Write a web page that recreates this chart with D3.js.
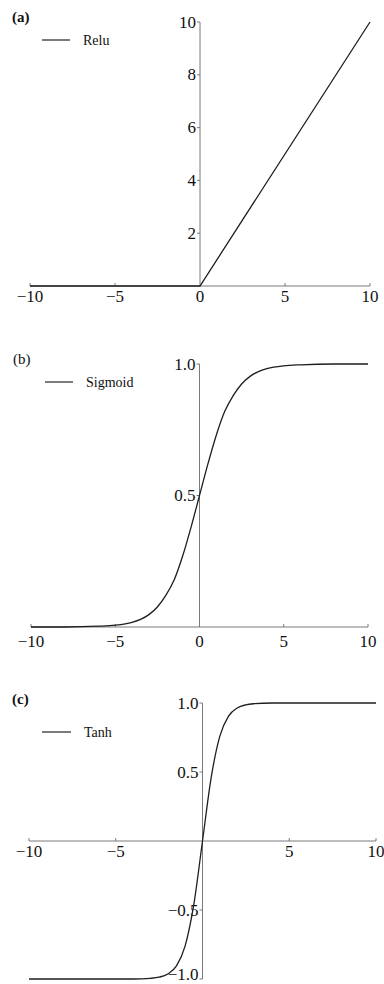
<!DOCTYPE html>
<html>
<head>
<meta charset="utf-8">
<script src="https://cdn.jsdelivr.net/npm/d3@7"></script>
<style>
  html, body { margin: 0; padding: 0; background: #fff; }
  svg { display: block; font-family: "Liberation Serif", "DejaVu Serif", serif; }
</style>
</head>
<body>
<svg id="chart" width="384" height="984"></svg>
<script>
// ── Data ─────────────────────────────────────────────────────────────────────
const reluX = [-10, 0, 10];
const reluY = [0, 0, 10];

const sigmoidX = [-10, -8, -6, -5, -4, -3.5, -3, -2.5, -2, -1.5, -1, -0.5, 0, 0.5, 1, 1.5, 2, 2.5, 3, 3.5, 4, 5, 6, 8, 10];
const sigmoidY = [0.00, 0.00, 0.003, 0.007, 0.018, 0.029, 0.047, 0.076, 0.12, 0.18, 0.27, 0.38, 0.50, 0.62, 0.73, 0.82, 0.88, 0.924, 0.953, 0.971, 0.982, 0.993, 0.997, 1.00, 1.00];

const tanhX = [-10, -5, -4, -3, -2.5, -2, -1.5, -1, -0.5, 0, 0.5, 1, 1.5, 2, 2.5, 3, 4, 5, 10];
const tanhY = [-1.00, -1.00, -1.00, -0.995, -0.987, -0.964, -0.905, -0.76, -0.46, 0, 0.46, 0.76, 0.905, 0.964, 0.987, 0.995, 1.00, 1.00, 1.00];

const xTicks = [-10, -5, 0, 5, 10];
const xTickLabels = ["−10", "−5", "0", "5", "10"];
const xTickLabelsC = ["−10", "−5", "", "5", "10"];

const reluYTicks = [2, 4, 6, 8, 10];
const reluYLabels = ["2", "4", "6", "8", "10"];
const sigmoidYTicks = [0.5, 1.0];
const sigmoidYLabels = ["0.5", "1.0"];
const tanhYTicks = [-1.0, -0.5, 0.5, 1.0];
const tanhYLabels = ["−1.0", "−0.5", "0.5", "1.0"];

// ── Panels ───────────────────────────────────────────────────────────────────
const svg = d3.select("#chart");
const AXIS = "#7a7a7a";
const CURVE = "#1e1e1e";

const panels = [
  { tag: "(a)", bold: true, name: "Relu", xs: reluX, ys: reluY, curve: d3.curveLinear,
    xr: [30, 370], yd: [0, 10], yr: [286, 22], xAxisAt: 0, yMin: 0,
    xt: xTickLabels, yt: reluYTicks, ytl: reluYLabels, xLabDy: 10,
    tagPos: [12, 17], leg: [42, 70, 40] },
  { tag: "(b)", bold: false, name: "Sigmoid", xs: sigmoidX, ys: sigmoidY, curve: d3.curveMonotoneX,
    xr: [31, 368], yd: [0, 1], yr: [627, 364], xAxisAt: 0, yMin: 0,
    xt: xTickLabels, yt: sigmoidYTicks, ytl: sigmoidYLabels, xLabDy: 14,
    tagPos: [13, 359], leg: [45, 73, 382] },
  { tag: "(c)", bold: true, name: "Tanh", xs: tanhX, ys: tanhY, curve: d3.curveMonotoneX,
    xr: [29, 376], yd: [-1, 1], yr: [979, 703], xAxisAt: 0, yMin: -1,
    xt: xTickLabelsC, yt: tanhYTicks, ytl: tanhYLabels, xLabDy: 10,
    tagPos: [12, 699], leg: [42, 71, 732] },
];

panels.forEach(p => {
  const x = d3.scaleLinear().domain([-10, 10]).range(p.xr);
  const y = d3.scaleLinear().domain(p.yd).range(p.yr);
  const g = svg.append("g");
  const y0 = y(p.xAxisAt);
  const x0 = x(0);

  // x axis line + ticks
  g.append("line").attr("x1", x(-10)).attr("x2", x(10)).attr("y1", y0).attr("y2", y0)
    .attr("stroke", AXIS).attr("stroke-width", 1);
  xTicks.forEach((t, i) => {
    if (t !== 0) {
      g.append("line").attr("x1", x(t)).attr("x2", x(t)).attr("y1", y0).attr("y2", y0 - 3)
        .attr("stroke", AXIS).attr("stroke-width", 1);
    }
    if (p.xt[i]) {
      g.append("text").attr("x", x(t)).attr("y", y0 + p.xLabDy)
        .attr("text-anchor", "middle").attr("dominant-baseline", "central")
        .attr("font-size", 17).attr("fill", "#111").text(p.xt[i]);
    }
  });

  // y axis line + ticks
  g.append("line").attr("x1", x0).attr("x2", x0).attr("y1", y(p.yMin)).attr("y2", y(p.yd[1]))
    .attr("stroke", AXIS).attr("stroke-width", 1);
  p.yt.forEach((t, i) => {
    g.append("line").attr("x1", x0 - 3).attr("x2", x0).attr("y1", y(t)).attr("y2", y(t))
      .attr("stroke", AXIS).attr("stroke-width", 1);
    // keep the bottom label inside the picture
    const ly = Math.min(y(t), 974);
    g.append("text").attr("x", x0 - 4).attr("y", ly)
      .attr("text-anchor", "end").attr("dominant-baseline", "central")
      .attr("font-size", 17).attr("fill", "#111").text(p.ytl[i]);
  });

  // curve
  const pts = p.xs.map((v, i) => [v, p.ys[i]]);
  g.append("path").datum(pts)
    .attr("d", d3.line().x(d => x(d[0])).y(d => y(d[1])).curve(p.curve))
    .attr("fill", "none").attr("stroke", CURVE).attr("stroke-width", 1.3);

  // legend
  g.append("line").attr("x1", p.leg[0]).attr("x2", p.leg[1]).attr("y1", p.leg[2]).attr("y2", p.leg[2])
    .attr("stroke", "#333").attr("stroke-width", 1.3);
  g.append("text").attr("x", p.leg[1] + 13).attr("y", p.leg[2])
    .attr("dominant-baseline", "central").attr("font-size", 14).attr("fill", "#111").text(p.name);

  // panel tag
  g.append("text").attr("x", p.tagPos[0]).attr("y", p.tagPos[1])
    .attr("dominant-baseline", "central").attr("font-size", 15)
    .attr("font-weight", p.bold ? "bold" : "normal").attr("fill", "#111").text(p.tag);
});
</script>
</body>
</html>
